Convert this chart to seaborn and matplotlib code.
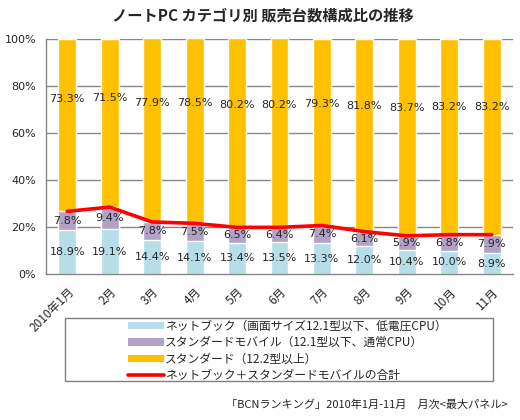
"""
ノートPC カテゴリ別 販売台数構成比の推移 - stacked bar + line chart
"""
import numpy as np
import pandas as pd
import matplotlib
matplotlib.use('Agg')
import matplotlib.pyplot as plt
from matplotlib.lines import Line2D
from matplotlib.patches import Patch, Rectangle
import seaborn as sns

months = ['2010年1月', '2月', '3月', '4月', '5月', '6月', '7月', '8月', '9月', '10月', '11月']
netbook = [18.9, 19.1, 14.4, 14.1, 13.4, 13.5, 13.3, 12.0, 10.4, 10.0, 8.9]
std_mobile = [7.8, 9.4, 7.8, 7.5, 6.5, 6.4, 7.4, 6.1, 5.9, 6.8, 7.9]
standard = [73.3, 71.5, 77.9, 78.5, 80.2, 80.2, 79.3, 81.8, 83.7, 83.2, 83.2]

legend_labels = [
    'ネットブック（画面サイズ12.1型以下、低電圧CPU）',
    'スタンダードモバイル（12.1型以下、通常CPU）',
    'スタンダード（12.2型以上）',
    'ネットブック＋スタンダードモバイルの合計',
]
title = 'ノートPC カテゴリ別 販売台数構成比の推移'
source = '「BCNランキング」2010年1月-11月　月次<最大パネル>'

c_net = '#B7DDE8'
c_mob = '#B3A2C7'
c_std = '#FFC000'
c_line = '#FF0000'
grid_c = '#868686'

sns.set_style('white')
plt.rcParams['font.family'] = ['Noto Sans CJK JP', 'DejaVu Sans']
num_font = ['DejaVu Sans']

df = pd.DataFrame({'month': months, 'netbook': netbook,
                   'mobile': std_mobile, 'standard': standard})
df['low2'] = df['netbook'] + df['mobile']
df['total'] = df['low2'] + df['standard']

fig = plt.figure(figsize=(5.2, 4.2), dpi=100)
ax = fig.add_axes([0.0885, 0.347, 0.898, 0.561])

# gridlines behind bars
for v in [20, 40, 60, 80, 100]:
    ax.axhline(v, color=grid_c, lw=1, zorder=0)

# stacked bars: draw cumulative heights, tallest first
sns.barplot(data=df, x='month', y='total', order=months, color=c_std,
            width=0.42, saturation=1, ax=ax, zorder=2)
sns.barplot(data=df, x='month', y='low2', order=months, color=c_mob,
            width=0.42, saturation=1, ax=ax, zorder=2)
sns.barplot(data=df, x='month', y='netbook', order=months, color=c_net,
            width=0.42, saturation=1, ax=ax, zorder=2)

xs = np.arange(len(months))
sns.lineplot(x=xs, y=df['low2'].values, color=c_line, lw=2.6, ax=ax, zorder=4)

# data labels
lab_kw = dict(ha='center', va='center', fontsize=8, family=num_font, zorder=5)
for i in range(len(months)):
    ax.text(i, df['netbook'][i] / 2, f'{netbook[i]:.1f}%', **lab_kw)
    ax.text(i, df['netbook'][i] + df['mobile'][i] / 2, f'{std_mobile[i]:.1f}%',
            **lab_kw)
    ax.text(i, df['low2'][i] + df['standard'][i] * 0.65, f'{standard[i]:.1f}%',
            **lab_kw)

ax.set_xlim(-0.5, len(months) - 0.5)
ax.set_ylim(0, 100)
ax.set_xlabel('')
ax.set_ylabel('')
ax.set_yticks([0, 20, 40, 60, 80, 100])
ax.set_yticklabels([f'{v}%' for v in [0, 20, 40, 60, 80, 100]], fontsize=8,
                   family=num_font)
ax.set_xticks(xs)
ax.set_xticklabels(months, rotation=45, ha='right', rotation_mode='anchor',
                   fontsize=8.5)
ax.set_xticks(np.arange(-0.5, len(months)), minor=True)
ax.tick_params(axis='x', which='major', length=0, pad=8)
ax.tick_params(axis='x', which='minor', length=4, color=grid_c, direction='out')
ax.tick_params(axis='y', length=4, color=grid_c, direction='out', pad=3)

for s in ['top', 'right']:
    ax.spines[s].set_visible(False)
for s in ['left', 'bottom']:
    ax.spines[s].set_color(grid_c)
    ax.spines[s].set_linewidth(1)
ax.spines['bottom'].set_zorder(6)

fig.text(0.506, 0.962, title, ha='center', va='center', fontsize=11,
         fontweight='bold')

# legend: wide frame like the original, entries left-aligned inside
fig.patches.append(Rectangle((65 / 520, 1 - 381 / 420), 428 / 520, 63 / 420,
                             transform=fig.transFigure, facecolor='white',
                             edgecolor='#808080', lw=1))
handles = [
    Patch(facecolor=c_net, edgecolor='none'),
    Patch(facecolor=c_mob, edgecolor='none'),
    Patch(facecolor=c_std, edgecolor='none'),
    Line2D([0], [0], color=c_line, lw=2.6),
]
leg = fig.legend(handles, legend_labels, loc='upper left',
                 bbox_to_anchor=(119 / 520, 1 - 310 / 420), fontsize=8.5,
                 frameon=False, handlelength=3.0, handleheight=0.6,
                 handletextpad=0.1, labelspacing=0.3, borderpad=0.3)

fig.text(0.977, 0.037, source, ha='right', va='center', fontsize=8)

fig.savefig('out.png', dpi=100)
